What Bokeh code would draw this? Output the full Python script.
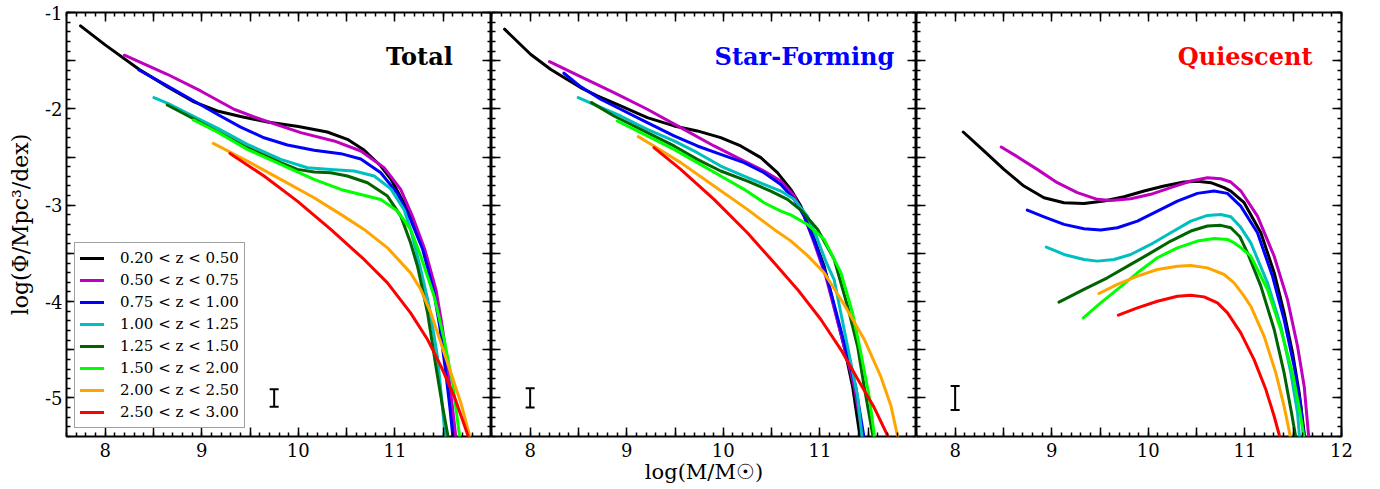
from bokeh.embed import file_html
from bokeh.layouts import row
from bokeh.models import (ColumnDataSource, CustomJSTickFormatter, Label, Legend,
                          LegendItem, LinearAxis, Range1d, SingleIntervalTicker,
                          TeeHead, Whisker)
from bokeh.plotting import figure
from bokeh.resources import INLINE

FONT = "DejaVu Serif"

z_labels = ["0.20 < z < 0.50", "0.50 < z < 0.75", "0.75 < z < 1.00",
            "1.00 < z < 1.25", "1.25 < z < 1.50", "1.50 < z < 2.00",
            "2.00 < z < 2.50", "2.50 < z < 3.00"]
z_colors = ["#000000", "#bf00bf", "#0000ff", "#00bfbf",
            "#006400", "#00ff00", "#ffa500", "#ff0000"]

# ---- Total: log(M) and log(Phi)
tot_x1 = [7.745, 8.0, 8.35, 8.643, 8.92, 9.161, 9.403, 9.68, 10.0, 10.30, 10.508,
          10.68, 10.854, 10.96, 11.165, 11.30, 11.41, 11.476, 11.53, 11.58, 11.613]
tot_y1 = [-1.139, -1.336, -1.589, -1.769, -1.928, -2.022, -2.08, -2.136, -2.184, -2.24, -2.316,
          -2.427, -2.593, -2.73, -3.11, -3.46, -3.875, -4.256, -4.67, -5.09, -5.40]
tot_x2 = [8.20, 8.643, 8.989, 9.334, 9.61, 10.025, 10.37, 10.647, 10.888, 11.06, 11.18,
          11.31, 11.425, 11.49, 11.545, 11.595, 11.63]
tot_y2 = [-1.443, -1.641, -1.814, -2.004, -2.108, -2.247, -2.333, -2.437, -2.61, -2.835, -3.11,
          -3.46, -3.875, -4.256, -4.67, -5.09, -5.40]
tot_x3 = [8.35, 8.643, 8.92, 9.161, 9.403, 9.645, 9.887, 10.163, 10.44, 10.647, 10.854,
          11.027, 11.162, 11.288, 11.398, 11.464, 11.518, 11.568, 11.60]
tot_y3 = [-1.596, -1.762, -1.918, -2.056, -2.19, -2.30, -2.375, -2.43, -2.465, -2.52, -2.663,
          -2.88, -3.15, -3.46, -3.875, -4.256, -4.67, -5.09, -5.40]
tot_x4 = [8.505, 8.643, 8.92, 9.161, 9.472, 9.818, 10.094, 10.336, 10.577, 10.785, 10.958,
          11.096, 11.162, 11.268, 11.355, 11.44, 11.485, 11.52]
tot_y4 = [-1.883, -1.94, -2.08, -2.20, -2.368, -2.524, -2.611, -2.628, -2.645, -2.697, -2.83,
          -3.05, -3.25, -3.668, -4.048, -4.568, -5.018, -5.40]
tot_x5 = [8.643, 8.92, 9.161, 9.472, 9.818, 9.99, 10.163, 10.336, 10.508, 10.716, 10.923,
          11.061, 11.162, 11.234, 11.338, 11.424, 11.493, 11.55]
tot_y5 = [-1.96, -2.105, -2.235, -2.403, -2.559, -2.628, -2.656, -2.663, -2.697, -2.767, -2.905,
          -3.113, -3.39, -3.633, -4.117, -4.672, -5.087, -5.40]
tot_x6 = [8.913, 9.161, 9.472, 9.818, 10.163, 10.44, 10.647, 10.854, 11.027, 11.162, 11.268,
          11.406, 11.51, 11.597, 11.67]
tot_y6 = [-2.115, -2.24, -2.42, -2.576, -2.732, -2.836, -2.888, -2.94, -3.061, -3.25, -3.53,
          -3.944, -4.394, -4.844, -5.40]
tot_x7 = [9.12, 9.472, 9.818, 10.163, 10.44, 10.681, 10.923, 11.162, 11.268, 11.372, 11.476,
          11.58, 11.683, 11.775]
tot_y7 = [-2.358, -2.541, -2.732, -2.922, -3.095, -3.251, -3.442, -3.702, -3.875, -4.117, -4.429,
          -4.74, -5.052, -5.40]
tot_x8 = [9.293, 9.645, 9.99, 10.336, 10.681, 10.923, 11.162, 11.338, 11.476, 11.613, 11.76]
tot_y8 = [-2.462, -2.697, -2.957, -3.251, -3.563, -3.806, -4.117, -4.394, -4.67, -4.98, -5.40]

# ---- Star-forming
sf_x1 = [7.735, 8.004, 8.211, 8.35, 8.522, 8.695, 8.937, 9.213, 9.49, 9.731, 9.973,
         10.18, 10.388, 10.56, 10.698, 10.802, 10.906, 11.044, 11.147, 11.25, 11.338, 11.415]
sf_y1 = [-1.173, -1.433, -1.589, -1.675, -1.779, -1.866, -1.97, -2.091, -2.177, -2.229, -2.299,
         -2.385, -2.506, -2.662, -2.835, -3.009, -3.25, -3.633, -4.048, -4.464, -4.88, -5.40]
sf_x2 = [8.201, 8.522, 8.868, 9.213, 9.559, 9.904, 10.18, 10.422, 10.595, 10.733, 10.837,
         10.94, 11.06, 11.16, 11.26, 11.355, 11.445]
sf_y2 = [-1.509, -1.665, -1.831, -2.004, -2.195, -2.385, -2.524, -2.645, -2.749, -2.905, -3.113,
         -3.39, -3.736, -4.117, -4.498, -4.879, -5.40]
sf_x3 = [8.35, 8.522, 8.73, 8.937, 9.213, 9.49, 9.731, 9.973, 10.215, 10.422, 10.595,
         10.733, 10.837, 10.95, 11.07, 11.17, 11.27, 11.37, 11.455]
sf_y3 = [-1.63, -1.769, -1.9, -2.004, -2.143, -2.281, -2.385, -2.472, -2.558, -2.662, -2.784,
         -2.939, -3.113, -3.39, -3.736, -4.117, -4.498, -4.879, -5.40]
sf_x4 = [8.498, 8.695, 8.937, 9.213, 9.49, 9.731, 9.973, 10.215, 10.422, 10.595, 10.733,
         10.871, 10.975, 11.06, 11.147, 11.286, 11.39, 11.435]
sf_y4 = [-1.883, -1.97, -2.074, -2.212, -2.333, -2.455, -2.593, -2.697, -2.784, -2.853, -2.939,
         -3.113, -3.355, -3.58, -3.771, -4.464, -4.983, -5.40]
sf_x5 = [8.636, 8.868, 9.04, 9.213, 9.49, 9.731, 9.973, 10.25, 10.491, 10.664, 10.802,
         10.975, 11.147, 11.286, 11.39, 11.458, 11.55]
sf_y5 = [-1.935, -2.074, -2.16, -2.247, -2.385, -2.524, -2.645, -2.749, -2.853, -2.939, -3.05,
         -3.25, -3.56, -4.048, -4.464, -4.88, -5.40]
sf_x6 = [8.902, 9.213, 9.49, 9.731, 9.973, 10.215, 10.422, 10.595, 10.698, 10.871, 11.044,
         11.217, 11.338, 11.424, 11.51, 11.565]
sf_y6 = [-2.126, -2.281, -2.42, -2.558, -2.697, -2.835, -2.974, -3.061, -3.10, -3.20, -3.355,
         -3.70, -4.117, -4.533, -4.983, -5.40]
sf_x7 = [9.12, 9.282, 9.559, 9.904, 10.249, 10.526, 10.698, 10.87, 11.044, 11.25, 11.458,
         11.631, 11.735, 11.805]
sf_y7 = [-2.288, -2.385, -2.558, -2.801, -3.043, -3.251, -3.37, -3.52, -3.70, -4.03, -4.39,
         -4.78, -5.08, -5.40]
sf_x8 = [9.282, 9.559, 9.904, 10.249, 10.526, 10.768, 11.01, 11.217, 11.389, 11.562, 11.705]
sf_y8 = [-2.403, -2.628, -2.939, -3.286, -3.597, -3.874, -4.186, -4.498, -4.80, -5.10, -5.40]

# ---- Quiescent
q_x1 = [8.084, 8.298, 8.505, 8.712, 8.92, 9.127, 9.334, 9.541, 9.749, 9.956, 10.163,
        10.37, 10.508, 10.647, 10.785, 10.854, 10.992, 11.165, 11.303, 11.406, 11.493,
        11.562, 11.618]
q_y1 = [-2.24, -2.437, -2.628, -2.801, -2.922, -2.974, -2.981, -2.957, -2.912, -2.853, -2.801,
        -2.759, -2.752, -2.766, -2.818, -2.853, -2.974, -3.286, -3.70, -4.117, -4.532,
        -4.948, -5.40]
q_x2 = [8.477, 8.643, 8.85, 9.058, 9.265, 9.472, 9.61, 9.818, 10.025, 10.232, 10.44,
        10.612, 10.75, 10.854, 10.957, 11.13, 11.303, 11.441, 11.545, 11.614, 11.66]
q_y2 = [-2.396, -2.496, -2.628, -2.766, -2.87, -2.939, -2.95, -2.932, -2.887, -2.818, -2.749,
        -2.714, -2.725, -2.759, -2.85, -3.113, -3.529, -3.979, -4.464, -4.88, -5.40]
q_x3 = [8.747, 8.92, 9.127, 9.334, 9.507, 9.68, 9.887, 10.094, 10.301, 10.508, 10.681,
        10.819, 10.957, 11.13, 11.286, 11.406, 11.51, 11.579, 11.61]
q_y3 = [-3.05, -3.12, -3.199, -3.244, -3.258, -3.234, -3.165, -3.061, -2.957, -2.877, -2.853,
        -2.877, -3.009, -3.286, -3.737, -4.187, -4.672, -5.087, -5.40]
q_x4 = [8.944, 9.127, 9.334, 9.472, 9.645, 9.818, 10.025, 10.232, 10.44, 10.612, 10.75,
        10.854, 10.95, 11.061, 11.234, 11.372, 11.476, 11.545, 11.565]
q_y4 = [-3.435, -3.511, -3.563, -3.58, -3.563, -3.511, -3.407, -3.286, -3.165, -3.106, -3.096,
        -3.12, -3.22, -3.39, -3.805, -4.256, -4.74, -5.156, -5.40]
q_x5 = [9.075, 9.334, 9.576, 9.818, 10.025, 10.232, 10.44, 10.612, 10.75, 10.854, 10.95,
        11.027, 11.165, 11.303, 11.406, 11.483, 11.525]
q_y5 = [-4.006, -3.874, -3.753, -3.614, -3.494, -3.372, -3.268, -3.216, -3.209, -3.234, -3.33,
        -3.494, -3.84, -4.29, -4.74, -5.156, -5.40]
q_x6 = [9.327, 9.507, 9.68, 9.887, 10.094, 10.301, 10.508, 10.681, 10.819, 10.888, 10.97,
        11.061, 11.234, 11.372, 11.493, 11.572, 11.61]
q_y6 = [-4.169, -4.013, -3.874, -3.701, -3.545, -3.442, -3.372, -3.345, -3.355, -3.39, -3.45,
        -3.529, -3.875, -4.29, -4.74, -5.156, -5.40]
q_x7 = [9.489, 9.68, 9.887, 10.094, 10.301, 10.44, 10.612, 10.785, 10.888, 10.975, 11.061,
        11.199, 11.32, 11.406, 11.47]
q_y7 = [-3.916, -3.822, -3.736, -3.667, -3.633, -3.626, -3.65, -3.719, -3.805, -3.92, -4.048,
        -4.36, -4.74, -5.087, -5.40]
q_x8 = [9.69, 9.887, 10.094, 10.301, 10.44, 10.578, 10.716, 10.82, 10.957, 11.095, 11.217,
        11.303, 11.36]
q_y8 = [-4.141, -4.065, -3.996, -3.944, -3.934, -3.951, -4.013, -4.117, -4.325, -4.602, -4.913,
        -5.19, -5.40]

# typical error bars (x, y, half length)
err_tot = (9.75, -5.0, 0.09)
err_sf = (8.0, -5.0, 0.10)
err_q = (8.0, -5.0, 0.125)

panels = [
    ("Total", "#000000", 11.6,
     [tot_x1, tot_x2, tot_x3, tot_x4, tot_x5, tot_x6, tot_x7, tot_x8],
     [tot_y1, tot_y2, tot_y3, tot_y4, tot_y5, tot_y6, tot_y7, tot_y8], err_tot),
    ("Star-Forming", "#0000ff", 11.77,
     [sf_x1, sf_x2, sf_x3, sf_x4, sf_x5, sf_x6, sf_x7, sf_x8],
     [sf_y1, sf_y2, sf_y3, sf_y4, sf_y5, sf_y6, sf_y7, sf_y8], err_sf),
    ("Quiescent", "#ff0000", 11.7,
     [q_x1, q_x2, q_x3, q_x4, q_x5, q_x6, q_x7, q_x8],
     [q_y1, q_y2, q_y3, q_y4, q_y5, q_y6, q_y7, q_y8], err_q),
]

INT_LABELS = """
const r = Math.round(tick);
if (Math.abs(tick - r) > 1e-6 || r > %s) { return ''; }
return r.toString();
"""


def style_axis(ax, labels, max_label=99, standoff=6):
    ax.ticker = SingleIntervalTicker(interval=0.5, num_minor_ticks=5)
    ax.axis_line_color = None
    ax.major_tick_in = 9
    ax.major_tick_out = 0
    ax.minor_tick_in = 4
    ax.minor_tick_out = 0
    ax.major_tick_line_width = 1.5
    ax.minor_tick_line_width = 1.5
    ax.major_tick_line_color = "black"
    ax.minor_tick_line_color = "black"
    ax.axis_label_text_font = FONT
    ax.axis_label_text_font_style = "normal"
    ax.axis_label_text_color = "black"
    if labels:
        ax.formatter = CustomJSTickFormatter(code=INT_LABELS % max_label)
        ax.major_label_text_font = FONT
        ax.major_label_text_font_size = "18px"
        ax.major_label_text_color = "black"
        ax.major_label_standoff = standoff
    else:
        ax.formatter = CustomJSTickFormatter(code="return '';")
        ax.major_label_text_font_size = "0px"
        ax.major_label_standoff = 0


figs = []
for i, (title, title_color, title_x, xs, ys, err) in enumerate(panels):
    p = figure(frame_width=425, frame_height=424,
               x_range=Range1d(7.6, 12.0), y_range=Range1d(-5.4, -1.0),
               x_axis_location=None, y_axis_location=None,
               toolbar_location=None, output_backend="svg",
               min_border_left=66 if i == 0 else 0,
               min_border_right=22 if i == 2 else 0,
               min_border_top=12, min_border_bottom=53)
    p.xgrid.visible = False
    p.ygrid.visible = False
    p.outline_line_color = "black"
    p.outline_line_width = 2
    p.background_fill_color = "white"

    bottom = LinearAxis()
    style_axis(bottom, True, 12 if i == 2 else 11, standoff=6)
    if i == 1:
        bottom.axis_label = "log(M/M\u2609)"
        bottom.axis_label_text_font_size = "21px"
        bottom.axis_label_standoff = 0
    p.add_layout(bottom, "below")

    left = LinearAxis()
    style_axis(left, i == 0, standoff=4)
    if i == 0:
        left.axis_label = "log(\u03a6/Mpc\u00b3/dex)"
        left.axis_label_text_font_size = "22px"
        left.axis_label_standoff = 9
    p.add_layout(left, "left")

    top = LinearAxis()
    style_axis(top, False)
    p.add_layout(top, "above")
    right = LinearAxis()
    style_axis(right, False)
    p.add_layout(right, "right")

    renderers = []
    for x, y, color in zip(xs, ys, z_colors):
        renderers.append(p.line(x, y, line_color=color, line_width=3,
                                line_join="round", line_cap="round"))

    ex, ey, ee = err
    src = ColumnDataSource(data=dict(x=[ex], lo=[ey - ee], hi=[ey + ee]))
    p.add_layout(Whisker(source=src, base="x", lower="lo", upper="hi",
                         dimension="height", line_color="black", line_width=2,
                         upper_head=TeeHead(size=9, line_width=2),
                         lower_head=TeeHead(size=9, line_width=2)))

    p.add_layout(Label(x=title_x, y=-1.454, text=title, text_align="right",
                       text_baseline="middle", text_font=FONT,
                       text_font_style="bold", text_font_size="24px",
                       text_color=title_color))

    if i == 0:
        items = [LegendItem(label=lab, renderers=[r])
                 for lab, r in zip(z_labels, renderers)]
        legend = Legend(items=items, location="bottom_left", margin=8,
                        padding=5, spacing=2, glyph_width=24, glyph_height=20,
                        label_height=20, label_standoff=16,
                        label_text_font=FONT, label_text_font_size="15px",
                        label_text_color="black",
                        border_line_color="#444444", border_line_width=1,
                        background_fill_color="white", background_fill_alpha=1)
        p.add_layout(legend)
    figs.append(p)

page = row(*figs)
open("out.html", "w").write(file_html(page, INLINE))
